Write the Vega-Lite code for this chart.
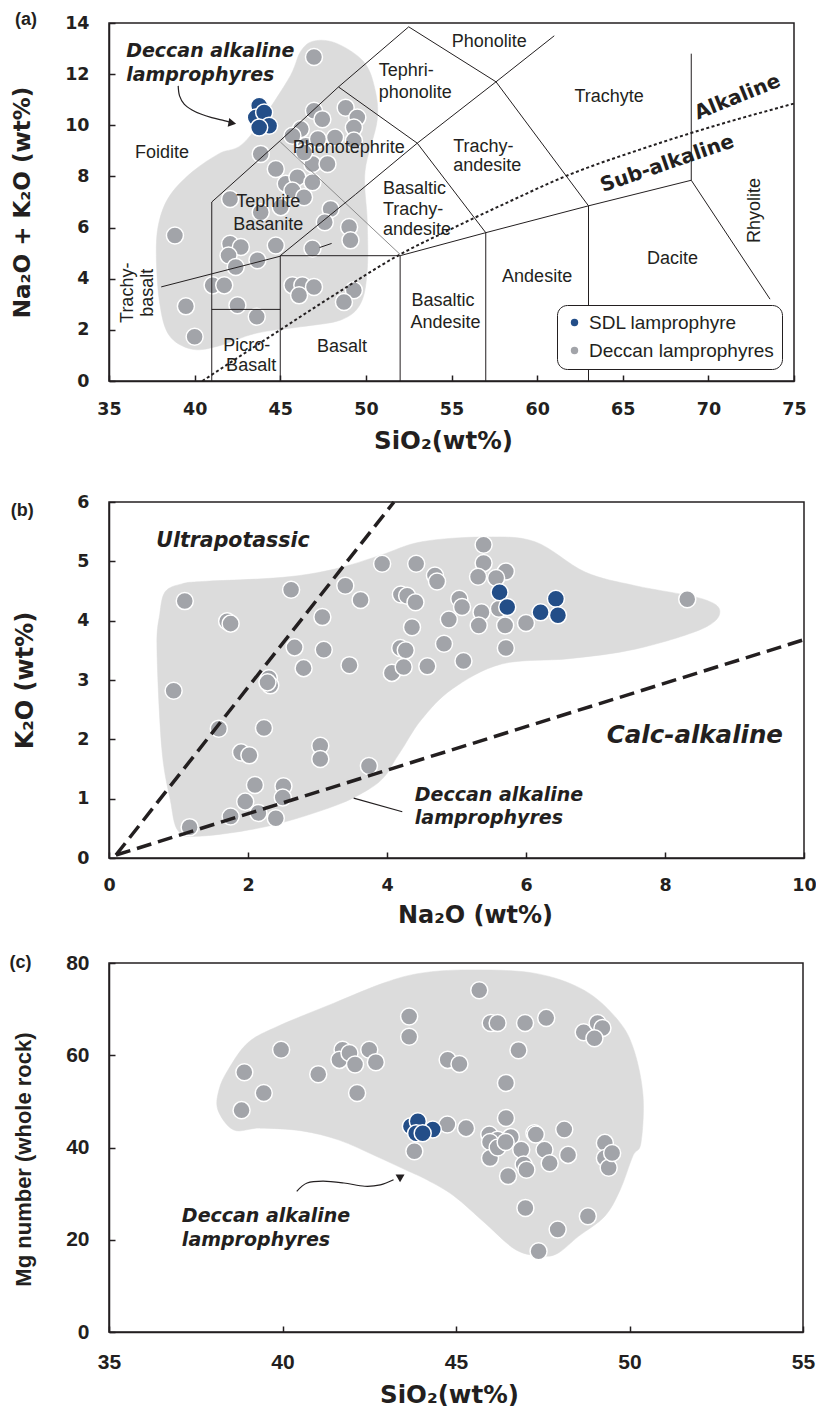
{
  "$schema": "https://vega.github.io/schema/vega-lite/v6.json",
  "background": "white",
  "padding": {"left": 8, "top": 10, "right": 5, "bottom": 0},
  "spacing": 38,
  "config": {
    "view": {"stroke": "#231f20", "strokeWidth": 1.5},
    "axis": {"grid": false, "domainColor": "#231f20", "domainWidth": 1.5, "tickColor": "#231f20", "tickWidth": 1.5, "tickSize": -6, "labelFont": "DejaVu Sans", "labelFontWeight": "bold", "labelFontSize": 17.5, "labelColor": "#231f20", "titleFont": "DejaVu Sans", "titleFontWeight": "bold", "titleFontSize": 24, "titleColor": "#231f20", "labelOverlap": false},
    "axisX": {"labelPadding": 25, "titlePadding": 12, "labelFlush": false},
    "axisY": {"labelPadding": 26, "titlePadding": 30},
    "text": {"font": "Liberation Sans", "fontSize": 18, "color": "#231f20"}
  },
  "resolve": {"scale": {"color": "independent"}, "legend": {"color": "independent"}},
  "datasets": {
    "hullA": [
      {"i": 1, "SiO2": 46.2, "alkali": 12.9}, {"i": 2, "SiO2": 47.0, "alkali": 13.3}, {"i": 3, "SiO2": 48.3, "alkali": 13.2},
      {"i": 4, "SiO2": 49.85, "alkali": 12.5}, {"i": 5, "SiO2": 50.5, "alkali": 11.5}, {"i": 6, "SiO2": 50.66, "alkali": 10.2},
      {"i": 7, "SiO2": 49.95, "alkali": 8.2}, {"i": 8, "SiO2": 50.08, "alkali": 6.27}, {"i": 9, "SiO2": 50.08, "alkali": 4.34},
      {"i": 10, "SiO2": 49.7, "alkali": 3.04}, {"i": 11, "SiO2": 48.55, "alkali": 2.39}, {"i": 12, "SiO2": 46.2, "alkali": 2.12},
      {"i": 13, "SiO2": 43.6, "alkali": 1.87}, {"i": 14, "SiO2": 41.3, "alkali": 1.35}, {"i": 15, "SiO2": 39.8, "alkali": 1.25},
      {"i": 16, "SiO2": 38.5, "alkali": 1.8}, {"i": 17, "SiO2": 37.95, "alkali": 3.09}, {"i": 18, "SiO2": 37.76, "alkali": 5.04},
      {"i": 19, "SiO2": 37.95, "alkali": 6.3}, {"i": 20, "SiO2": 38.6, "alkali": 7.3}, {"i": 21, "SiO2": 39.9, "alkali": 8.2},
      {"i": 22, "SiO2": 41.45, "alkali": 8.9}, {"i": 23, "SiO2": 43.0, "alkali": 9.4}, {"i": 24, "SiO2": 45.42, "alkali": 11.74}
    ],
    "tasLines": [
      {"seg": "A", "i": 1, "SiO2": 41, "alkali": 0}, {"seg": "A", "i": 2, "SiO2": 41, "alkali": 7}, {"seg": "A", "i": 3, "SiO2": 45, "alkali": 9.4}, {"seg": "A", "i": 4, "SiO2": 48.4, "alkali": 11.5}, {"seg": "A", "i": 5, "SiO2": 52.5, "alkali": 13.85},
      {"seg": "B", "i": 1, "SiO2": 41, "alkali": 2.8}, {"seg": "B", "i": 2, "SiO2": 45, "alkali": 2.8},
      {"seg": "C", "i": 1, "SiO2": 45, "alkali": 0}, {"seg": "C", "i": 2, "SiO2": 45, "alkali": 4.9}, {"seg": "C", "i": 3, "SiO2": 52, "alkali": 4.9},
      {"seg": "D", "i": 1, "SiO2": 45, "alkali": 4.9}, {"seg": "D", "i": 2, "SiO2": 49.4, "alkali": 7.3}, {"seg": "D", "i": 3, "SiO2": 53, "alkali": 9.3}, {"seg": "D", "i": 4, "SiO2": 57.6, "alkali": 11.7}, {"seg": "D", "i": 5, "SiO2": 61, "alkali": 13.5},
      {"seg": "E", "i": 1, "SiO2": 48.4, "alkali": 11.5}, {"seg": "E", "i": 2, "SiO2": 53, "alkali": 9.3}, {"seg": "E", "i": 3, "SiO2": 57, "alkali": 5.8}, {"seg": "E", "i": 4, "SiO2": 57, "alkali": 0},
      {"seg": "F", "i": 1, "SiO2": 52, "alkali": 0}, {"seg": "F", "i": 2, "SiO2": 52, "alkali": 4.9}, {"seg": "F", "i": 3, "SiO2": 57, "alkali": 5.8}, {"seg": "F", "i": 4, "SiO2": 63, "alkali": 6.85}, {"seg": "F", "i": 5, "SiO2": 69, "alkali": 7.85}, {"seg": "F", "i": 6, "SiO2": 69, "alkali": 12.8},
      {"seg": "G", "i": 1, "SiO2": 52.5, "alkali": 13.85}, {"seg": "G", "i": 2, "SiO2": 57.6, "alkali": 11.7}, {"seg": "G", "i": 3, "SiO2": 63, "alkali": 6.85}, {"seg": "G", "i": 4, "SiO2": 63, "alkali": 0},
      {"seg": "H", "i": 1, "SiO2": 69, "alkali": 7.85}, {"seg": "H", "i": 2, "SiO2": 73.6, "alkali": 3.2},
      {"seg": "I", "i": 1, "SiO2": 38.05, "alkali": 3.68}, {"seg": "I", "i": 2, "SiO2": 45, "alkali": 4.88},
      {"seg": "J", "i": 1, "SiO2": 47.3, "alkali": 5.22}, {"seg": "J", "i": 2, "SiO2": 48, "alkali": 5.38}
    ],
    "grayLineA": [{"i": 1, "SiO2": 45, "alkali": 9.35}, {"i": 2, "SiO2": 52, "alkali": 4.95}],
    "dottedA": [
      {"i": 1, "SiO2": 40.45, "alkali": 0}, {"i": 2, "SiO2": 45, "alkali": 2.0}, {"i": 3, "SiO2": 48, "alkali": 3.3}, {"i": 4, "SiO2": 52, "alkali": 4.95},
      {"i": 5, "SiO2": 55, "alkali": 5.95}, {"i": 6, "SiO2": 58, "alkali": 6.9}, {"i": 7, "SiO2": 62, "alkali": 8.1}, {"i": 8, "SiO2": 66, "alkali": 9.05},
      {"i": 9, "SiO2": 69, "alkali": 9.7}, {"i": 10, "SiO2": 75, "alkali": 10.85}
    ],
    "labA_center": [
      {"SiO2": 57.2, "alkali": 13.25, "label": "Phonolite"}, {"SiO2": 64.2, "alkali": 11.1, "label": "Trachyte"},
      {"SiO2": 38.1, "alkali": 8.9, "label": "Foidite"}, {"SiO2": 49.0, "alkali": 9.13, "label": "Phonotephrite"},
      {"SiO2": 44.3, "alkali": 7.0, "label": "Tephrite"}, {"SiO2": 44.3, "alkali": 6.12, "label": "Basanite"},
      {"SiO2": 43.05, "alkali": 1.36, "label": "Picro-"}, {"SiO2": 43.3, "alkali": 0.58, "label": "Basalt"},
      {"SiO2": 48.6, "alkali": 1.33, "label": "Basalt"}, {"SiO2": 54.5, "alkali": 3.12, "label": "Basaltic"},
      {"SiO2": 54.65, "alkali": 2.27, "label": "Andesite"}, {"SiO2": 60.0, "alkali": 4.05, "label": "Andesite"},
      {"SiO2": 67.9, "alkali": 4.76, "label": "Dacite"}
    ],
    "labA_left": [
      {"SiO2": 50.75, "alkali": 12.12, "label": "Tephri-"}, {"SiO2": 50.75, "alkali": 11.28, "label": "phonolite"},
      {"SiO2": 51.0, "alkali": 7.51, "label": "Basaltic"}, {"SiO2": 51.0, "alkali": 6.67, "label": "Trachy-"},
      {"SiO2": 51.0, "alkali": 5.89, "label": "andesite"}, {"SiO2": 55.1, "alkali": 9.14, "label": "Trachy-"},
      {"SiO2": 55.1, "alkali": 8.4, "label": "andesite"}
    ],
    "labA_rot": [
      {"SiO2": 36.09, "alkali": 3.45, "label": "Trachy-"}, {"SiO2": 37.3, "alkali": 3.45, "label": "basalt"},
      {"SiO2": 72.7, "alkali": 6.67, "label": "Rhyolite"}
    ],
    "tasPoints": [
      {"SiO2": 46.97, "alkali": 12.67, "group": "Deccan lamprophyres"}, {"SiO2": 38.85, "alkali": 5.69, "group": "Deccan lamprophyres"},
      {"SiO2": 39.49, "alkali": 2.92, "group": "Deccan lamprophyres"}, {"SiO2": 40.0, "alkali": 1.73, "group": "Deccan lamprophyres"},
      {"SiO2": 42.07, "alkali": 7.12, "group": "Deccan lamprophyres"}, {"SiO2": 42.07, "alkali": 5.37, "group": "Deccan lamprophyres"},
      {"SiO2": 42.7, "alkali": 5.24, "group": "Deccan lamprophyres"}, {"SiO2": 41.98, "alkali": 4.91, "group": "Deccan lamprophyres"},
      {"SiO2": 42.4, "alkali": 4.46, "group": "Deccan lamprophyres"}, {"SiO2": 43.67, "alkali": 4.72, "group": "Deccan lamprophyres"},
      {"SiO2": 44.74, "alkali": 5.3, "group": "Deccan lamprophyres"}, {"SiO2": 41.05, "alkali": 3.74, "group": "Deccan lamprophyres"},
      {"SiO2": 41.73, "alkali": 3.74, "group": "Deccan lamprophyres"}, {"SiO2": 42.5, "alkali": 2.96, "group": "Deccan lamprophyres"},
      {"SiO2": 43.63, "alkali": 2.51, "group": "Deccan lamprophyres"}, {"SiO2": 43.86, "alkali": 8.88, "group": "Deccan lamprophyres"},
      {"SiO2": 46.97, "alkali": 10.57, "group": "Deccan lamprophyres"}, {"SiO2": 48.82, "alkali": 10.69, "group": "Deccan lamprophyres"},
      {"SiO2": 49.5, "alkali": 10.3, "group": "Deccan lamprophyres"}, {"SiO2": 49.3, "alkali": 9.91, "group": "Deccan lamprophyres"},
      {"SiO2": 46.2, "alkali": 9.85, "group": "Deccan lamprophyres"}, {"SiO2": 47.46, "alkali": 10.24, "group": "Deccan lamprophyres"},
      {"SiO2": 46.49, "alkali": 9.2, "group": "Deccan lamprophyres"}, {"SiO2": 47.2, "alkali": 9.46, "group": "Deccan lamprophyres"},
      {"SiO2": 48.2, "alkali": 9.52, "group": "Deccan lamprophyres"}, {"SiO2": 49.3, "alkali": 9.4, "group": "Deccan lamprophyres"},
      {"SiO2": 46.88, "alkali": 8.49, "group": "Deccan lamprophyres"}, {"SiO2": 47.76, "alkali": 8.49, "group": "Deccan lamprophyres"},
      {"SiO2": 46.39, "alkali": 8.94, "group": "Deccan lamprophyres"}, {"SiO2": 44.74, "alkali": 8.29, "group": "Deccan lamprophyres"},
      {"SiO2": 45.32, "alkali": 7.71, "group": "Deccan lamprophyres"}, {"SiO2": 46.0, "alkali": 7.97, "group": "Deccan lamprophyres"},
      {"SiO2": 45.71, "alkali": 7.45, "group": "Deccan lamprophyres"}, {"SiO2": 46.39, "alkali": 7.19, "group": "Deccan lamprophyres"},
      {"SiO2": 46.88, "alkali": 7.77, "group": "Deccan lamprophyres"}, {"SiO2": 45.03, "alkali": 6.8, "group": "Deccan lamprophyres"},
      {"SiO2": 43.86, "alkali": 6.6, "group": "Deccan lamprophyres"}, {"SiO2": 47.94, "alkali": 6.73, "group": "Deccan lamprophyres"},
      {"SiO2": 47.6, "alkali": 6.21, "group": "Deccan lamprophyres"}, {"SiO2": 49.02, "alkali": 6.02, "group": "Deccan lamprophyres"},
      {"SiO2": 49.1, "alkali": 5.5, "group": "Deccan lamprophyres"}, {"SiO2": 46.88, "alkali": 5.18, "group": "Deccan lamprophyres"},
      {"SiO2": 45.71, "alkali": 3.74, "group": "Deccan lamprophyres"}, {"SiO2": 46.29, "alkali": 3.74, "group": "Deccan lamprophyres"},
      {"SiO2": 46.97, "alkali": 3.68, "group": "Deccan lamprophyres"}, {"SiO2": 46.1, "alkali": 3.35, "group": "Deccan lamprophyres"},
      {"SiO2": 49.3, "alkali": 3.55, "group": "Deccan lamprophyres"}, {"SiO2": 48.72, "alkali": 3.09, "group": "Deccan lamprophyres"},
      {"SiO2": 45.71, "alkali": 9.59, "group": "Deccan lamprophyres"},
      {"SiO2": 43.77, "alkali": 10.76, "group": "SDL lamprophyre"}, {"SiO2": 43.57, "alkali": 10.3, "group": "SDL lamprophyre"},
      {"SiO2": 44.06, "alkali": 10.5, "group": "SDL lamprophyre"}, {"SiO2": 44.35, "alkali": 9.98, "group": "SDL lamprophyre"},
      {"SiO2": 43.77, "alkali": 9.91, "group": "SDL lamprophyre"}
    ],
    "arrowA": [
      {"i": 1, "SiO2": 39.04, "alkali": 11.54}, {"i": 2, "SiO2": 39.12, "alkali": 11.15}, {"i": 3, "SiO2": 39.39, "alkali": 10.83},
      {"i": 4, "SiO2": 39.85, "alkali": 10.6}, {"i": 5, "SiO2": 40.36, "alkali": 10.44}, {"i": 6, "SiO2": 41.0, "alkali": 10.3},
      {"i": 7, "SiO2": 41.72, "alkali": 10.18}, {"i": 8, "SiO2": 42.1, "alkali": 10.11}
    ],
    "hullB": [
      {"i": 1, "Na2O": 1.05, "K2O": 4.62}, {"i": 2, "Na2O": 1.34, "K2O": 4.66}, {"i": 3, "Na2O": 2.5, "K2O": 4.73}, {"i": 4, "Na2O": 3.25, "K2O": 4.87},
      {"i": 5, "Na2O": 3.9, "K2O": 5.1}, {"i": 6, "Na2O": 4.5, "K2O": 5.33}, {"i": 7, "Na2O": 5.4, "K2O": 5.41}, {"i": 8, "Na2O": 6.13, "K2O": 5.33},
      {"i": 9, "Na2O": 6.85, "K2O": 4.82}, {"i": 10, "Na2O": 7.57, "K2O": 4.59}, {"i": 11, "Na2O": 8.53, "K2O": 4.37}, {"i": 12, "Na2O": 8.79, "K2O": 4.15},
      {"i": 13, "Na2O": 8.53, "K2O": 3.86}, {"i": 14, "Na2O": 7.57, "K2O": 3.52}, {"i": 15, "Na2O": 6.62, "K2O": 3.36}, {"i": 16, "Na2O": 5.65, "K2O": 3.27},
      {"i": 17, "Na2O": 4.94, "K2O": 2.85}, {"i": 18, "Na2O": 4.5, "K2O": 2.34}, {"i": 19, "Na2O": 4.22, "K2O": 1.84}, {"i": 20, "Na2O": 4.1, "K2O": 1.62},
      {"i": 21, "Na2O": 3.97, "K2O": 1.38}, {"i": 22, "Na2O": 3.74, "K2O": 1.16}, {"i": 23, "Na2O": 3.25, "K2O": 0.88}, {"i": 24, "Na2O": 2.3, "K2O": 0.54},
      {"i": 25, "Na2O": 1.34, "K2O": 0.37}, {"i": 26, "Na2O": 1.0, "K2O": 0.45}, {"i": 27, "Na2O": 0.88, "K2O": 0.99}, {"i": 28, "Na2O": 0.76, "K2O": 1.84},
      {"i": 29, "Na2O": 0.69, "K2O": 3.52}, {"i": 30, "Na2O": 0.73, "K2O": 4.11}, {"i": 31, "Na2O": 0.81, "K2O": 4.49}
    ],
    "dashB": [
      {"seg": "ultra", "i": 1, "Na2O": 0.1, "K2O": 0.05}, {"seg": "ultra", "i": 2, "Na2O": 4.1, "K2O": 6.0},
      {"seg": "calc", "i": 1, "Na2O": 0.1, "K2O": 0.05}, {"seg": "calc", "i": 2, "Na2O": 10.0, "K2O": 3.68}
    ],
    "pointsB": [
      {"Na2O": 1.09, "K2O": 4.33, "group": "Deccan lamprophyres"}, {"Na2O": 1.7, "K2O": 3.99, "group": "Deccan lamprophyres"},
      {"Na2O": 1.75, "K2O": 3.95, "group": "Deccan lamprophyres"}, {"Na2O": 2.62, "K2O": 4.52, "group": "Deccan lamprophyres"},
      {"Na2O": 3.4, "K2O": 4.59, "group": "Deccan lamprophyres"}, {"Na2O": 3.62, "K2O": 4.35, "group": "Deccan lamprophyres"},
      {"Na2O": 3.07, "K2O": 4.06, "group": "Deccan lamprophyres"}, {"Na2O": 3.93, "K2O": 4.96, "group": "Deccan lamprophyres"},
      {"Na2O": 4.2, "K2O": 4.44, "group": "Deccan lamprophyres"}, {"Na2O": 4.29, "K2O": 4.42, "group": "Deccan lamprophyres"},
      {"Na2O": 2.67, "K2O": 3.55, "group": "Deccan lamprophyres"}, {"Na2O": 3.09, "K2O": 3.51, "group": "Deccan lamprophyres"},
      {"Na2O": 4.19, "K2O": 3.54, "group": "Deccan lamprophyres"}, {"Na2O": 4.27, "K2O": 3.5, "group": "Deccan lamprophyres"},
      {"Na2O": 4.36, "K2O": 3.89, "group": "Deccan lamprophyres"}, {"Na2O": 0.93, "K2O": 2.82, "group": "Deccan lamprophyres"},
      {"Na2O": 1.58, "K2O": 2.18, "group": "Deccan lamprophyres"}, {"Na2O": 2.3, "K2O": 3.03, "group": "Deccan lamprophyres"},
      {"Na2O": 2.32, "K2O": 2.91, "group": "Deccan lamprophyres"}, {"Na2O": 2.28, "K2O": 2.96, "group": "Deccan lamprophyres"},
      {"Na2O": 2.23, "K2O": 2.19, "group": "Deccan lamprophyres"}, {"Na2O": 1.9, "K2O": 1.78, "group": "Deccan lamprophyres"},
      {"Na2O": 2.02, "K2O": 1.73, "group": "Deccan lamprophyres"}, {"Na2O": 3.04, "K2O": 1.89, "group": "Deccan lamprophyres"},
      {"Na2O": 3.04, "K2O": 1.67, "group": "Deccan lamprophyres"}, {"Na2O": 3.74, "K2O": 1.55, "group": "Deccan lamprophyres"},
      {"Na2O": 2.1, "K2O": 1.23, "group": "Deccan lamprophyres"}, {"Na2O": 2.51, "K2O": 1.21, "group": "Deccan lamprophyres"},
      {"Na2O": 2.5, "K2O": 1.02, "group": "Deccan lamprophyres"}, {"Na2O": 1.96, "K2O": 0.95, "group": "Deccan lamprophyres"},
      {"Na2O": 2.15, "K2O": 0.76, "group": "Deccan lamprophyres"}, {"Na2O": 1.75, "K2O": 0.7, "group": "Deccan lamprophyres"},
      {"Na2O": 2.4, "K2O": 0.67, "group": "Deccan lamprophyres"}, {"Na2O": 1.16, "K2O": 0.52, "group": "Deccan lamprophyres"},
      {"Na2O": 2.8, "K2O": 3.2, "group": "Deccan lamprophyres"}, {"Na2O": 3.46, "K2O": 3.25, "group": "Deccan lamprophyres"},
      {"Na2O": 4.07, "K2O": 3.12, "group": "Deccan lamprophyres"}, {"Na2O": 4.24, "K2O": 3.22, "group": "Deccan lamprophyres"},
      {"Na2O": 4.58, "K2O": 3.23, "group": "Deccan lamprophyres"}, {"Na2O": 5.1, "K2O": 3.32, "group": "Deccan lamprophyres"},
      {"Na2O": 5.39, "K2O": 5.28, "group": "Deccan lamprophyres"}, {"Na2O": 5.39, "K2O": 4.97, "group": "Deccan lamprophyres"},
      {"Na2O": 4.42, "K2O": 4.96, "group": "Deccan lamprophyres"}, {"Na2O": 4.69, "K2O": 4.76, "group": "Deccan lamprophyres"},
      {"Na2O": 4.72, "K2O": 4.66, "group": "Deccan lamprophyres"}, {"Na2O": 5.31, "K2O": 4.74, "group": "Deccan lamprophyres"},
      {"Na2O": 5.71, "K2O": 4.83, "group": "Deccan lamprophyres"}, {"Na2O": 5.57, "K2O": 4.72, "group": "Deccan lamprophyres"},
      {"Na2O": 8.32, "K2O": 4.36, "group": "Deccan lamprophyres"}, {"Na2O": 4.41, "K2O": 4.31, "group": "Deccan lamprophyres"},
      {"Na2O": 5.04, "K2O": 4.37, "group": "Deccan lamprophyres"}, {"Na2O": 5.08, "K2O": 4.23, "group": "Deccan lamprophyres"},
      {"Na2O": 5.36, "K2O": 4.14, "group": "Deccan lamprophyres"}, {"Na2O": 5.32, "K2O": 3.92, "group": "Deccan lamprophyres"},
      {"Na2O": 5.61, "K2O": 4.2, "group": "Deccan lamprophyres"}, {"Na2O": 4.89, "K2O": 4.02, "group": "Deccan lamprophyres"},
      {"Na2O": 5.7, "K2O": 3.92, "group": "Deccan lamprophyres"}, {"Na2O": 6.0, "K2O": 3.96, "group": "Deccan lamprophyres"},
      {"Na2O": 4.82, "K2O": 3.61, "group": "Deccan lamprophyres"}, {"Na2O": 5.71, "K2O": 3.54, "group": "Deccan lamprophyres"},
      {"Na2O": 5.62, "K2O": 4.48, "group": "SDL lamprophyre"}, {"Na2O": 5.73, "K2O": 4.23, "group": "SDL lamprophyre"},
      {"Na2O": 6.21, "K2O": 4.14, "group": "SDL lamprophyre"}, {"Na2O": 6.43, "K2O": 4.37, "group": "SDL lamprophyre"},
      {"Na2O": 6.46, "K2O": 4.09, "group": "SDL lamprophyre"}
    ],
    "hullC": [
      {"i": 1, "SiO2": 43.99, "Mg": 77.8}, {"i": 2, "SiO2": 45.35, "Mg": 78.5}, {"i": 3, "SiO2": 47.25, "Mg": 77.8}, {"i": 4, "SiO2": 48.69, "Mg": 74.1},
      {"i": 5, "SiO2": 49.67, "Mg": 67.6}, {"i": 6, "SiO2": 50.13, "Mg": 61.1}, {"i": 7, "SiO2": 50.39, "Mg": 51.2}, {"i": 8, "SiO2": 50.33, "Mg": 41.0},
      {"i": 9, "SiO2": 50.1, "Mg": 38.2}, {"i": 10, "SiO2": 49.73, "Mg": 30.8}, {"i": 11, "SiO2": 49.29, "Mg": 25.1}, {"i": 12, "SiO2": 48.54, "Mg": 20.8},
      {"i": 13, "SiO2": 47.94, "Mg": 17.1}, {"i": 14, "SiO2": 47.48, "Mg": 16.5}, {"i": 15, "SiO2": 46.73, "Mg": 17.8}, {"i": 16, "SiO2": 45.84, "Mg": 23.6},
      {"i": 17, "SiO2": 44.94, "Mg": 29.5}, {"i": 18, "SiO2": 44.16, "Mg": 33.0}, {"i": 19, "SiO2": 43.56, "Mg": 35.1}, {"i": 20, "SiO2": 42.67, "Mg": 38.2},
      {"i": 21, "SiO2": 41.63, "Mg": 41.6}, {"i": 22, "SiO2": 40.56, "Mg": 43.6}, {"i": 23, "SiO2": 39.35, "Mg": 44.2}, {"i": 24, "SiO2": 38.6, "Mg": 43.8},
      {"i": 25, "SiO2": 38.14, "Mg": 48.1}, {"i": 26, "SiO2": 38.17, "Mg": 52.5}, {"i": 27, "SiO2": 38.43, "Mg": 56.8}, {"i": 28, "SiO2": 39.0, "Mg": 62.7},
      {"i": 29, "SiO2": 39.87, "Mg": 66.3}, {"i": 30, "SiO2": 41.48, "Mg": 71.3}, {"i": 31, "SiO2": 42.93, "Mg": 75.7}
    ],
    "pointsC": [
      {"SiO2": 39.96, "Mg": 61.2, "group": "Deccan lamprophyres"}, {"SiO2": 38.9, "Mg": 56.3, "group": "Deccan lamprophyres"},
      {"SiO2": 39.46, "Mg": 51.8, "group": "Deccan lamprophyres"}, {"SiO2": 38.82, "Mg": 48.1, "group": "Deccan lamprophyres"},
      {"SiO2": 41.03, "Mg": 55.9, "group": "Deccan lamprophyres"}, {"SiO2": 41.73, "Mg": 61.2, "group": "Deccan lamprophyres"},
      {"SiO2": 41.64, "Mg": 59.0, "group": "Deccan lamprophyres"}, {"SiO2": 41.93, "Mg": 60.5, "group": "Deccan lamprophyres"},
      {"SiO2": 42.09, "Mg": 58.0, "group": "Deccan lamprophyres"}, {"SiO2": 42.5, "Mg": 61.2, "group": "Deccan lamprophyres"},
      {"SiO2": 42.69, "Mg": 58.5, "group": "Deccan lamprophyres"}, {"SiO2": 42.15, "Mg": 51.8, "group": "Deccan lamprophyres"},
      {"SiO2": 43.65, "Mg": 68.4, "group": "Deccan lamprophyres"}, {"SiO2": 43.65, "Mg": 64.0, "group": "Deccan lamprophyres"},
      {"SiO2": 45.67, "Mg": 74.1, "group": "Deccan lamprophyres"}, {"SiO2": 46.0, "Mg": 67.0, "group": "Deccan lamprophyres"},
      {"SiO2": 46.2, "Mg": 67.0, "group": "Deccan lamprophyres"}, {"SiO2": 46.99, "Mg": 67.0, "group": "Deccan lamprophyres"},
      {"SiO2": 47.6, "Mg": 68.1, "group": "Deccan lamprophyres"}, {"SiO2": 48.68, "Mg": 65.0, "group": "Deccan lamprophyres"},
      {"SiO2": 49.08, "Mg": 67.0, "group": "Deccan lamprophyres"}, {"SiO2": 49.22, "Mg": 65.9, "group": "Deccan lamprophyres"},
      {"SiO2": 48.99, "Mg": 63.7, "group": "Deccan lamprophyres"}, {"SiO2": 46.8, "Mg": 61.1, "group": "Deccan lamprophyres"},
      {"SiO2": 44.76, "Mg": 59.0, "group": "Deccan lamprophyres"}, {"SiO2": 45.1, "Mg": 58.1, "group": "Deccan lamprophyres"},
      {"SiO2": 46.44, "Mg": 54.0, "group": "Deccan lamprophyres"}, {"SiO2": 46.44, "Mg": 46.4, "group": "Deccan lamprophyres"},
      {"SiO2": 44.75, "Mg": 45.0, "group": "Deccan lamprophyres"}, {"SiO2": 45.29, "Mg": 44.2, "group": "Deccan lamprophyres"},
      {"SiO2": 45.96, "Mg": 42.8, "group": "Deccan lamprophyres"}, {"SiO2": 46.2, "Mg": 41.7, "group": "Deccan lamprophyres"},
      {"SiO2": 46.58, "Mg": 42.3, "group": "Deccan lamprophyres"}, {"SiO2": 47.26, "Mg": 43.1, "group": "Deccan lamprophyres"},
      {"SiO2": 48.12, "Mg": 43.9, "group": "Deccan lamprophyres"}, {"SiO2": 43.8, "Mg": 39.2, "group": "Deccan lamprophyres"},
      {"SiO2": 45.98, "Mg": 41.2, "group": "Deccan lamprophyres"}, {"SiO2": 45.98, "Mg": 37.7, "group": "Deccan lamprophyres"},
      {"SiO2": 46.2, "Mg": 40.0, "group": "Deccan lamprophyres"}, {"SiO2": 46.43, "Mg": 41.2, "group": "Deccan lamprophyres"},
      {"SiO2": 46.5, "Mg": 33.8, "group": "Deccan lamprophyres"}, {"SiO2": 46.88, "Mg": 39.5, "group": "Deccan lamprophyres"},
      {"SiO2": 46.95, "Mg": 36.3, "group": "Deccan lamprophyres"}, {"SiO2": 47.03, "Mg": 35.2, "group": "Deccan lamprophyres"},
      {"SiO2": 47.3, "Mg": 42.8, "group": "Deccan lamprophyres"}, {"SiO2": 47.55, "Mg": 39.5, "group": "Deccan lamprophyres"},
      {"SiO2": 47.7, "Mg": 36.6, "group": "Deccan lamprophyres"}, {"SiO2": 48.23, "Mg": 38.4, "group": "Deccan lamprophyres"},
      {"SiO2": 49.29, "Mg": 41.0, "group": "Deccan lamprophyres"}, {"SiO2": 49.29, "Mg": 37.7, "group": "Deccan lamprophyres"},
      {"SiO2": 49.4, "Mg": 35.6, "group": "Deccan lamprophyres"}, {"SiO2": 49.5, "Mg": 38.8, "group": "Deccan lamprophyres"},
      {"SiO2": 47.0, "Mg": 26.9, "group": "Deccan lamprophyres"}, {"SiO2": 48.8, "Mg": 25.1, "group": "Deccan lamprophyres"},
      {"SiO2": 47.93, "Mg": 22.2, "group": "Deccan lamprophyres"}, {"SiO2": 47.38, "Mg": 17.5, "group": "Deccan lamprophyres"},
      {"SiO2": 43.7, "Mg": 44.6, "group": "SDL lamprophyre"}, {"SiO2": 43.9, "Mg": 45.7, "group": "SDL lamprophyre"},
      {"SiO2": 43.85, "Mg": 43.1, "group": "SDL lamprophyre"}, {"SiO2": 44.33, "Mg": 43.9, "group": "SDL lamprophyre"},
      {"SiO2": 44.04, "Mg": 43.1, "group": "SDL lamprophyre"}
    ],
    "arrowC": [
      {"i": 1, "SiO2": 40.41, "Mg": 30.5}, {"i": 2, "SiO2": 40.71, "Mg": 32.3}, {"i": 3, "SiO2": 41.17, "Mg": 32.7}, {"i": 4, "SiO2": 41.77, "Mg": 32.3},
      {"i": 5, "SiO2": 42.37, "Mg": 31.6}, {"i": 6, "SiO2": 42.82, "Mg": 31.9}, {"i": 7, "SiO2": 43.2, "Mg": 33.0}
    ]
  },
  "vconcat": [
    {
      "width": 685,
      "height": 358,
      "encoding": {
        "x": {"field": "SiO2", "type": "quantitative", "scale": {"domain": [35, 75], "nice": false, "zero": false}, "axis": {"values": [35, 40, 45, 50, 55, 60, 65, 70, 75], "title": "SiO₂(wt%)", "titleFontSize": 24.5, "titleX": 334}},
        "y": {"field": "alkali", "type": "quantitative", "scale": {"domain": [0, 14], "nice": false}, "axis": {"values": [0, 2, 4, 6, 8, 10, 12, 14], "title": "Na₂O + K₂O (wt%)", "titleFontSize": 23}}
      },
      "layer": [
        {"data": {"name": "hullA"}, "mark": {"type": "line", "interpolate": "cardinal-closed", "fill": "#dcdcdc", "stroke": "#dcdcdc", "strokeWidth": 0.5}, "encoding": {"order": {"field": "i", "type": "quantitative"}}},
        {"data": {"name": "tasPoints"}, "transform": [{"filter": "datum.group === 'Deccan lamprophyres'"}], "mark": {"type": "point", "filled": true, "size": 290, "stroke": "white", "strokeWidth": 1.5, "opacity": 1},
          "encoding": {"color": {"field": "group", "type": "nominal", "scale": {"domain": ["SDL lamprophyre", "Deccan lamprophyres"], "range": ["#234e88", "#a2a4a9"]},
            "legend": {"title": null, "orient": "bottom-right", "offset": 12, "padding": 8, "strokeColor": "#231f20", "fillColor": "white", "cornerRadius": 10, "labelFont": "Liberation Sans", "labelFontSize": 19, "labelColor": "#231f20", "labelLimit": 400, "symbolSize": 55, "symbolType": "circle", "rowPadding": 8, "labelOffset": 5, "symbolStrokeWidth": 0}}}},
        {"data": {"name": "tasPoints"}, "transform": [{"filter": "datum.group === 'SDL lamprophyre'"}], "mark": {"type": "point", "filled": true, "size": 290, "stroke": "white", "strokeWidth": 1.5, "opacity": 1},
          "encoding": {"color": {"field": "group", "type": "nominal", "scale": {"domain": ["SDL lamprophyre", "Deccan lamprophyres"], "range": ["#234e88", "#a2a4a9"]}}}},
        {"data": {"name": "grayLineA"}, "mark": {"type": "line", "color": "#8c8c8c", "strokeWidth": 1}, "encoding": {"order": {"field": "i", "type": "quantitative"}}},
        {"data": {"name": "tasLines"}, "mark": {"type": "line", "color": "#231f20", "strokeWidth": 1}, "encoding": {"detail": {"field": "seg", "type": "nominal"}, "order": {"field": "i", "type": "quantitative"}}},
        {"data": {"name": "dottedA"}, "mark": {"type": "line", "color": "#231f20", "strokeWidth": 2, "strokeDash": [3, 2.5], "interpolate": "monotone"}, "encoding": {"order": {"field": "i", "type": "quantitative"}}},
        {"data": {"name": "labA_center"}, "mark": {"type": "text"}, "encoding": {"text": {"field": "label"}}},
        {"data": {"name": "labA_left"}, "mark": {"type": "text", "align": "left"}, "encoding": {"text": {"field": "label"}}},
        {"data": {"name": "labA_rot"}, "mark": {"type": "text", "angle": 270}, "encoding": {"text": {"field": "label"}}},
        {"data": {"values": [{"SiO2": 71.7, "alkali": 11.1, "label": "Alkaline"}]}, "mark": {"type": "text", "font": "DejaVu Sans", "fontWeight": "bold", "fontSize": 20, "angle": 338}, "encoding": {"text": {"field": "label"}}},
        {"data": {"values": [{"SiO2": 67.6, "alkali": 8.5, "label": "Sub-alkaline"}]}, "mark": {"type": "text", "font": "DejaVu Sans", "fontWeight": "bold", "fontSize": 20, "angle": 341}, "encoding": {"text": {"field": "label"}}},
        {"data": {"values": [{"SiO2": 36.0, "alkali": 12.9, "label": "Deccan alkaline"}, {"SiO2": 36.0, "alkali": 11.95, "label": "lamprophyres"}]}, "mark": {"type": "text", "align": "left", "font": "DejaVu Sans", "fontWeight": "bold", "fontStyle": "italic", "fontSize": 19}, "encoding": {"text": {"field": "label"}}},
        {"data": {"name": "arrowA"}, "mark": {"type": "line", "color": "#231f20", "strokeWidth": 1.2, "interpolate": "cardinal"}, "encoding": {"order": {"field": "i", "type": "quantitative"}}},
        {"data": {"values": [{"SiO2": 42.2, "alkali": 10.09}]}, "mark": {"type": "point", "shape": "triangle-right", "filled": true, "color": "#231f20", "size": 80, "angle": 10, "opacity": 1}},
        {"data": {"values": [{"SiO2": 30.16, "alkali": 14.11, "label": "(a)"}]}, "mark": {"type": "text", "fontWeight": "bold", "fontSize": 18}, "encoding": {"text": {"field": "label"}}}
      ]
    },
    {
      "spacing": 22,
      "vconcat": [
        {
          "width": 695,
          "height": 356,
          "encoding": {
            "x": {"field": "Na2O", "type": "quantitative", "scale": {"domain": [0, 10], "nice": false, "zero": false}, "axis": {"values": [0, 2, 4, 6, 8, 10], "title": "Na₂O (wt%)", "titlePadding": 10, "labelPadding": 24, "titleX": 366}},
            "y": {"field": "K2O", "type": "quantitative", "scale": {"domain": [0, 6], "nice": false}, "axis": {"values": [0, 1, 2, 3, 4, 5, 6], "title": "K₂O (wt%)", "titlePadding": 39}}
          },
          "layer": [
            {"data": {"name": "hullB"}, "mark": {"type": "line", "interpolate": "cardinal-closed", "fill": "#dcdcdc", "stroke": "#dcdcdc", "strokeWidth": 0.5}, "encoding": {"order": {"field": "i", "type": "quantitative"}}},
            {"data": {"name": "pointsB"}, "transform": [{"filter": "datum.group === 'Deccan lamprophyres'"}], "mark": {"type": "point", "filled": true, "color": "#a2a4a9", "size": 290, "stroke": "white", "strokeWidth": 1.5, "opacity": 1}},
            {"data": {"name": "pointsB"}, "transform": [{"filter": "datum.group === 'SDL lamprophyre'"}], "mark": {"type": "point", "filled": true, "color": "#234e88", "size": 290, "stroke": "white", "strokeWidth": 1.5, "opacity": 1}},
            {"data": {"name": "dashB"}, "mark": {"type": "line", "color": "#231f20", "strokeWidth": 3.5, "strokeDash": [15, 7]}, "encoding": {"detail": {"field": "seg", "type": "nominal"}, "order": {"field": "i", "type": "quantitative"}}},
            {"data": {"values": [{"i": 1, "Na2O": 3.52, "K2O": 1.01}, {"i": 2, "Na2O": 4.22, "K2O": 0.78}]}, "mark": {"type": "line", "color": "#231f20", "strokeWidth": 1.2}, "encoding": {"order": {"field": "i", "type": "quantitative"}}},
            {"data": {"values": [{"Na2O": 0.68, "K2O": 5.35, "label": "Ultrapotassic"}]}, "mark": {"type": "text", "align": "left", "font": "DejaVu Sans", "fontWeight": "bold", "fontStyle": "italic", "fontSize": 20.5}, "encoding": {"text": {"field": "label"}}},
            {"data": {"values": [{"Na2O": 8.43, "K2O": 2.06, "label": "Calc-alkaline"}]}, "mark": {"type": "text", "font": "DejaVu Sans", "fontWeight": "bold", "fontStyle": "italic", "fontSize": 24.5}, "encoding": {"text": {"field": "label"}}},
            {"data": {"values": [{"Na2O": 4.4, "K2O": 1.07, "label": "Deccan alkaline"}, {"Na2O": 4.4, "K2O": 0.67, "label": "lamprophyres"}]}, "mark": {"type": "text", "align": "left", "font": "DejaVu Sans", "fontWeight": "bold", "fontStyle": "italic", "fontSize": 19}, "encoding": {"text": {"field": "label"}}},
            {"data": {"values": [{"Na2O": -1.25, "K2O": 5.85, "label": "(b)"}]}, "mark": {"type": "text", "fontWeight": "bold", "fontSize": 18}, "encoding": {"text": {"field": "label"}}}
          ]
        },
        {
          "width": 694,
          "height": 369,
          "encoding": {
            "x": {"field": "SiO2", "type": "quantitative", "scale": {"domain": [35, 55], "nice": false, "zero": false}, "axis": {"values": [35, 40, 45, 50, 55], "title": "SiO₂(wt%)", "titleFontSize": 24.5, "titlePadding": 11, "titleX": 340, "labelFont": "Liberation Sans", "labelFontSize": 21}},
            "y": {"field": "Mg", "type": "quantitative", "scale": {"domain": [0, 80], "nice": false}, "axis": {"values": [0, 20, 40, 60, 80], "title": "Mg number (whole rock)", "titleFont": "Liberation Sans", "titleFontSize": 22, "titlePadding": 30, "titleY": 196, "labelFont": "Liberation Sans", "labelFontSize": 21}}
          },
          "layer": [
            {"data": {"name": "hullC"}, "mark": {"type": "line", "interpolate": "cardinal-closed", "fill": "#dcdcdc", "stroke": "#dcdcdc", "strokeWidth": 0.5}, "encoding": {"order": {"field": "i", "type": "quantitative"}}},
            {"data": {"name": "pointsC"}, "transform": [{"filter": "datum.group === 'Deccan lamprophyres'"}], "mark": {"type": "point", "filled": true, "color": "#a2a4a9", "size": 290, "stroke": "white", "strokeWidth": 1.5, "opacity": 1}},
            {"data": {"name": "pointsC"}, "transform": [{"filter": "datum.group === 'SDL lamprophyre'"}], "mark": {"type": "point", "filled": true, "color": "#234e88", "size": 290, "stroke": "white", "strokeWidth": 1.5, "opacity": 1}},
            {"data": {"name": "arrowC"}, "mark": {"type": "line", "color": "#231f20", "strokeWidth": 1.2, "interpolate": "cardinal"}, "encoding": {"order": {"field": "i", "type": "quantitative"}}},
            {"data": {"values": [{"SiO2": 43.42, "Mg": 33.75}]}, "mark": {"type": "point", "shape": "triangle-right", "filled": true, "color": "#231f20", "size": 80, "angle": 330, "opacity": 1}},
            {"data": {"values": [{"SiO2": 37.1, "Mg": 25.1, "label": "Deccan alkaline"}, {"SiO2": 37.1, "Mg": 20.0, "label": "lamprophyres"}]}, "mark": {"type": "text", "align": "left", "font": "DejaVu Sans", "fontWeight": "bold", "fontStyle": "italic", "fontSize": 19}, "encoding": {"text": {"field": "label"}}},
            {"data": {"values": [{"SiO2": 32.45, "Mg": 80.0, "label": "(c)"}]}, "mark": {"type": "text", "fontWeight": "bold", "fontSize": 18}, "encoding": {"text": {"field": "label"}}}
          ]
        }
      ]
    }
  ]
}
